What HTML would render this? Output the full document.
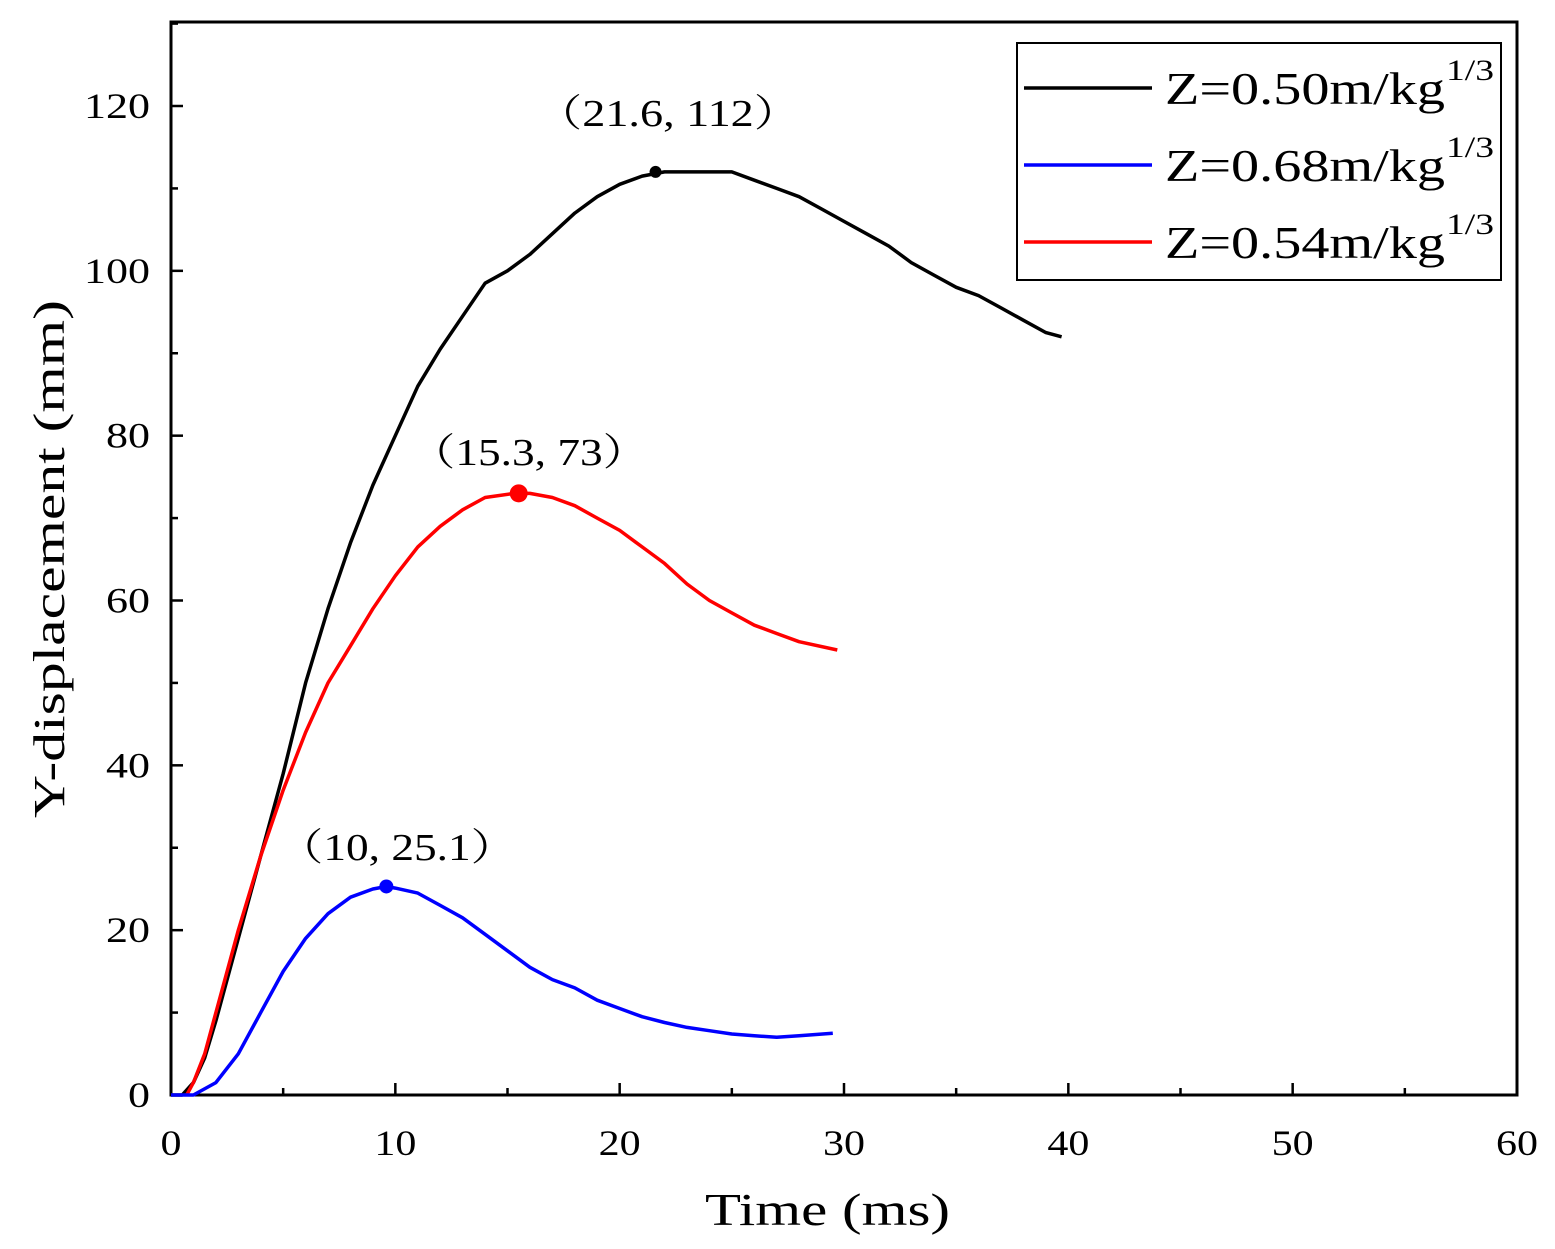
<!DOCTYPE html>
<html><head><meta charset="utf-8"><style>
body{margin:0;background:#fff}
svg text{font-family:"Liberation Serif","Noto Serif CJK SC",serif;fill:#000}
</style></head><body>
<svg width="1555" height="1244" xmlns="http://www.w3.org/2000/svg">
<g id="plot"></g>
</svg>
<script>
const xTicks=[0,10,20,30,40,50,60];
const yTicks=[0,20,40,60,80,100,120];
const blackT=[0,0.5,1,1.5,2,3,4,5,6,7,8,9,10,11,12,13,14,15,16,17,18,19,20,21,22,25,26,27,28,29,30,31,32,33,34,35,36,37,38,39,39.7];
const blackY=[0,0,1.5,4.5,9,19,29,39,50,59,67,74,80,86,90.5,94.5,98.5,100,102,104.5,107,109,110.5,111.5,112,112,111,110,109,107.5,106,104.5,103,101,99.5,98,97,95.5,94,92.5,92];
const redT=[0.7,1,1.5,2,3,4,5,6,7,8,9,10,11,12,13,14,15.3,16,17,18,19,20,21,22,23,24,25,26,27,28,29.7];
const redY=[0,1.5,5,10,20,29,37,44,50,54.5,59,63,66.5,69,71,72.5,73,73,72.5,71.5,70,68.5,66.5,64.5,62,60,58.5,57,56,55,54];
const blueT=[0,1,2,3,4,5,6,7,8,9,9.6,10,11,12,13,14,15,16,17,18,19,20,21,22,23,24,25,26,27,28,29.5];
const blueY=[0,0,1.5,5,10,15,19,22,24,25,25.3,25.1,24.5,23,21.5,19.5,17.5,15.5,14,13,11.5,10.5,9.5,8.8,8.2,7.8,7.4,7.2,7,7.2,7.5];
const peaks=[{t:21.6,v:112,c:'#000',r:6,label:'（21.6, 112）',lx:536,ly:126,w:264},{t:15.5,v:73,c:'#ff0000',r:9,label:'（15.3, 73）',lx:410,ly:465,w:238},{t:9.6,v:25.3,c:'#0000ff',r:7,label:'（10, 25.1）',lx:278,ly:860,w:238}];
const X0=171,X1=1517,Y0=1095,YT=22;
const sx=t=>X0+(X1-X0)*t/60;
const sy=v=>Y0-(Y0-106)*v/120;
const NS='http://www.w3.org/2000/svg';
const g=document.getElementById('plot');
function mk(tag,attrs){const e=document.createElementNS(NS,tag);for(const k in attrs)e.setAttribute(k,attrs[k]);g.appendChild(e);return e;}
let e=mk('rect',{x:X0,y:YT,width:X1-X0,height:Y0-YT,fill:'none',stroke:'#000','stroke-width':3});

for(let t=0;t<=60;t+=5){const maj=t%10===0;const l=maj?12:7;
 e=mk('line',{x1:sx(t),x2:sx(t),y1:Y0,y2:Y0-l,stroke:'#000','stroke-width':2.5});
 }
xTicks.forEach(t=>{e=mk('text',{x:sx(t),y:1155,'font-size':36,'text-anchor':'middle',textLength:String(t).length*21,lengthAdjust:'spacingAndGlyphs'});e.textContent=t;
 });
for(let v=0;v<=130;v+=10){const maj=v%20===0;const l=maj?12:7;
 e=mk('line',{x1:X0,x2:X0+l,y1:sy(v),y2:sy(v),stroke:'#000','stroke-width':2.5});
 }
yTicks.forEach(v=>{const w=String(v).length*22;e=mk('text',{x:150-w,y:sy(v)+12,'font-size':36,textLength:w,lengthAdjust:'spacingAndGlyphs'});e.textContent=v;
 });
e=mk('text',{x:705,y:1225,'font-size':46,textLength:245,lengthAdjust:'spacingAndGlyphs'});e.textContent='Time (ms)';

e=mk('text',{x:0,y:0,'font-size':44,textLength:518,lengthAdjust:'spacingAndGlyphs',transform:'translate(64 818) rotate(-90)'});e.textContent='Y-displacement (mm)';

function line(T,Y,c,n){const d=T.map((t,i)=>(i?'L':'M')+sx(t).toFixed(1)+','+sy(Y[i]).toFixed(1)).join('');
 const p=mk('path',{d:d,fill:'none',stroke:c,'stroke-width':3.5,'stroke-linejoin':'round'});
 }
line(blackT,blackY,'#000','series-z050');
line(redT,redY,'#ff0000','series-z054');
line(blueT,blueY,'#0000ff','series-z068');
peaks.forEach(p=>{e=mk('circle',{cx:sx(p.t),cy:sy(p.v),r:p.r,fill:p.c});
 
 e=mk('text',{x:p.lx,y:p.ly,'font-size':38,textLength:p.w,lengthAdjust:'spacingAndGlyphs'});e.textContent=p.label;
 });
e=mk('rect',{x:1017,y:43,width:484,height:237,fill:'#fff',stroke:'#000','stroke-width':2});

[['#000','0.50'],['#0000ff','0.68'],['#ff0000','0.54']].forEach((L,i)=>{const y=88+i*77;
 e=mk('line',{x1:1024,x2:1152,y1:y,y2:y,stroke:L[0],'stroke-width':3.5});
 
 e=mk('text',{x:1165,y:y+16,'font-size':46,textLength:280,lengthAdjust:'spacingAndGlyphs'});e.textContent='Z='+L[1]+'m/kg';
 
 e=mk('text',{x:1446,y:y-8,'font-size':30,textLength:48,lengthAdjust:'spacingAndGlyphs'});e.textContent='1/3';
 });
</script>
</body></html>
